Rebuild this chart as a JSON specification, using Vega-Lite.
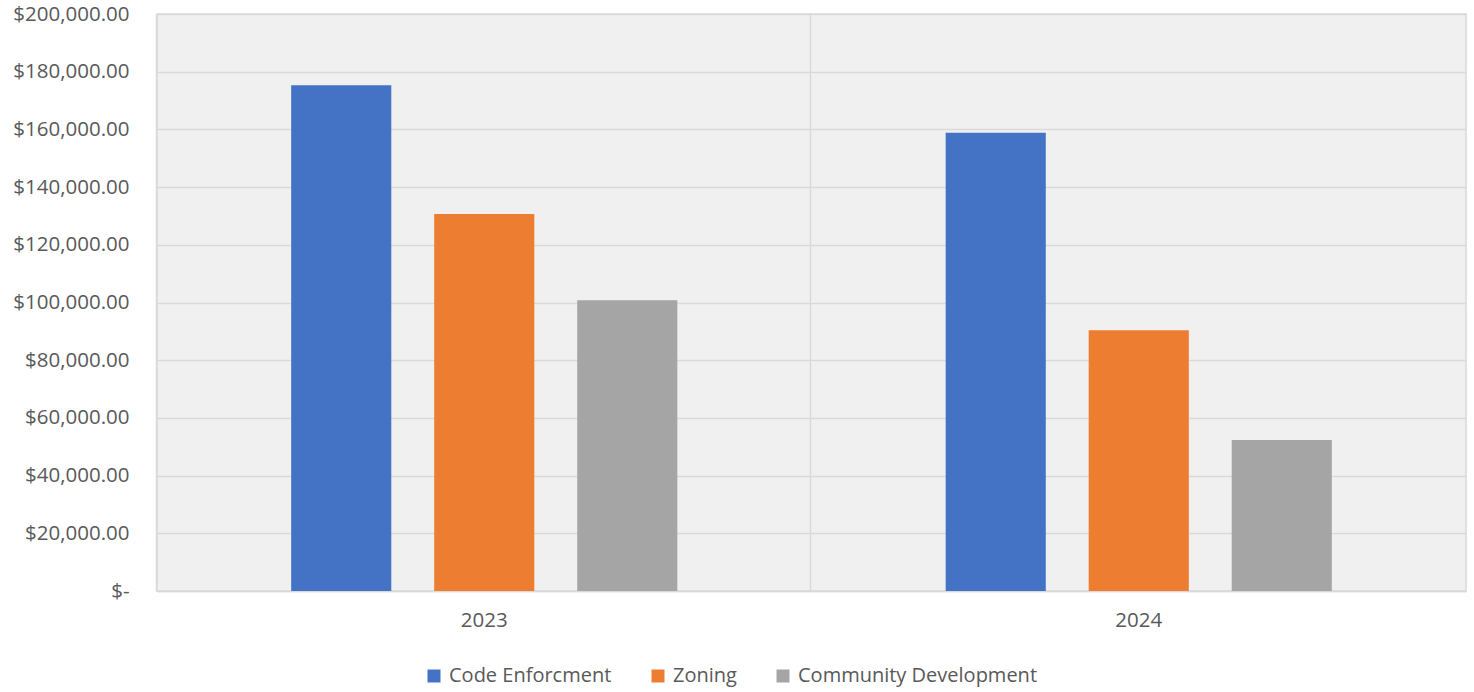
{
  "$schema": "https://vega.github.io/schema/vega-lite/v6.json",
  "width": 1309,
  "height": 577,
  "autosize": "none",
  "padding": {"left": 157, "top": 14, "right": 8, "bottom": 101},
  "background": "white",
  "config": {
    "view": {"fill": "#f0f0f0", "stroke": "#d9d9d9", "strokeWidth": 1.5},
    "font": "Open Sans",
    "axis": {"labelColor": "#595959", "labelFont": "Open Sans", "labelFontSize": 20.5, "ticks": false, "title": null},
    "legend": {"labelColor": "#595959", "labelFont": "Open Sans", "labelFontSize": 20, "labelLimit": 400}
  },
  "data": {
    "values": [
      {"year": "2023", "dept": "Code Enforcment", "amount": 175300},
      {"year": "2023", "dept": "Zoning", "amount": 130700},
      {"year": "2023", "dept": "Community Development", "amount": 100800},
      {"year": "2024", "dept": "Code Enforcment", "amount": 158850},
      {"year": "2024", "dept": "Zoning", "amount": 90400},
      {"year": "2024", "dept": "Community Development", "amount": 52300}
    ]
  },
  "resolve": {"axis": {"x": "independent"}},
  "layer": [
    {
      "mark": {"type": "bar", "opacity": 0},
      "encoding": {
        "x": {
          "field": "year", "type": "nominal",
          "scale": {"paddingInner": 0.41, "paddingOuter": 0.205},
          "axis": {"orient": "top", "grid": true, "gridColor": "#d9d9d9", "gridWidth": 1.5, "bandPosition": -0.349, "labels": false, "domain": false, "ticks": false}
        }
      }
    },
    {
      "mark": {"type": "bar"},
      "encoding": {
        "x": {
          "field": "year", "type": "nominal",
          "scale": {"paddingInner": 0.41, "paddingOuter": 0.205},
          "axis": {"orient": "bottom", "grid": false, "labelAngle": 0, "labelPadding": 19, "domainColor": "#d9d9d9", "domainWidth": 1.5}
        },
        "xOffset": {
          "field": "dept", "type": "nominal",
          "sort": ["Code Enforcment", "Zoning", "Community Development"],
          "scale": {"paddingInner": 0.3, "paddingOuter": 0}
        },
        "y": {
          "field": "amount", "type": "quantitative",
          "scale": {"domain": [0, 200000], "nice": false},
          "axis": {
            "values": [0, 20000, 40000, 60000, 80000, 100000, 120000, 140000, 160000, 180000, 200000],
            "grid": true, "gridColor": "#d9d9d9", "gridWidth": 1.5, "domain": false,
            "labelPadding": 28,
            "labelExpr": "datum.value == 0 ? '$-\u00a0\u00a0\u00a0' : '$' + format(datum.value, ',.2f')"
          }
        },
        "color": {
          "field": "dept", "type": "nominal",
          "sort": ["Code Enforcment", "Zoning", "Community Development"],
          "scale": {"domain": ["Code Enforcment", "Zoning", "Community Development"], "range": ["#4472C4", "#ED7D31", "#A5A5A5"]},
          "legend": {
            "title": null, "orient": "none", "direction": "horizontal",
            "legendX": 267, "legendY": 652,
            "symbolType": "square", "symbolSize": 169, "symbolStrokeWidth": 0,
            "labelOffset": 5, "columnPadding": 36
          }
        }
      }
    }
  ]
}
